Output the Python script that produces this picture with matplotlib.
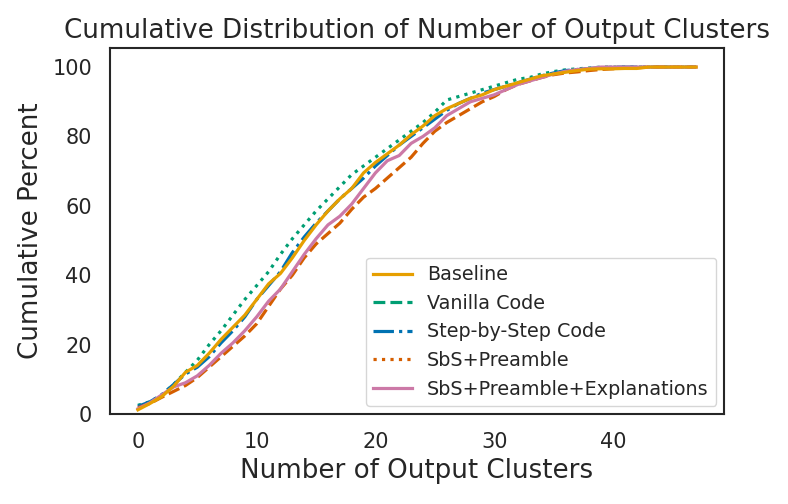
import matplotlib
matplotlib.use("Agg")
import matplotlib.pyplot as plt
from matplotlib.lines import Line2D
import numpy as np

clusters = np.arange(48)

baseline = [1.2, 3.0, 5.0, 8.0, 12.0, 14.0, 17.5, 21.5, 25.0, 28.5,
            33.0, 37.5, 40.5, 45.0, 50.0, 54.5, 58.5, 62.0, 65.0, 69.5,
            72.5, 75.0, 77.5, 80.5, 83.0, 86.0, 88.0, 89.5, 91.0, 92.0,
            93.5, 94.5, 95.5, 96.5, 97.5, 98.0, 98.5, 99.0, 99.4, 99.5,
            99.5, 99.6, 99.6, 100, 100, 100, 100, 100]
vanilla = [2.5, 3.5, 5.5, 8.5, 12.0, 15.5, 20.0, 24.0, 28.5, 33.0,
           37.0, 41.0, 46.0, 50.5, 54.5, 58.5, 62.0, 65.5, 69.0, 71.5,
           74.0, 76.5, 79.0, 81.5, 84.0, 87.0, 90.5, 91.5, 92.5, 93.5,
           94.5, 95.5, 96.5, 97.0, 98.0, 98.7, 99.2, 99.5, 99.7, 100,
           100, 100, 100, 100, 100, 100, 100, 100]
sbs_code = [2.2, 3.5, 5.5, 8.5, 11.5, 13.5, 16.5, 20.5, 24.0, 28.0,
            33.0, 37.0, 41.0, 46.5, 51.0, 55.0, 58.5, 62.0, 65.0, 68.0,
            71.5, 74.5, 77.5, 80.0, 82.5, 85.0, 87.5, 89.5, 91.0, 92.5,
            93.5, 94.5, 95.5, 96.5, 97.5, 98.3, 99.0, 99.3, 99.6, 99.8,
            100, 100, 100, 100, 100, 100, 100, 100]
sbs_preamble = [1.8, 3.0, 4.8, 6.5, 8.2, 10.5, 13.5, 16.5, 19.5, 22.5,
                26.0, 31.0, 36.0, 40.0, 45.0, 49.0, 52.0, 55.0, 59.0, 62.5,
                65.0, 68.0, 71.0, 74.0, 78.0, 81.5, 84.0, 86.0, 88.0, 90.0,
                91.5, 93.5, 95.0, 96.0, 97.0, 97.8, 98.3, 98.6, 99.0, 99.3,
                99.5, 99.7, 99.8, 100, 100, 100, 100, 100]
sbs_expl = [1.5, 3.2, 5.5, 7.8, 9.0, 11.0, 14.0, 17.5, 20.5, 24.0,
            28.0, 32.5, 36.0, 41.0, 46.0, 50.5, 54.5, 57.0, 60.5, 65.0,
            69.5, 73.0, 74.5, 78.0, 80.0, 82.5, 86.0, 88.0, 90.0, 91.0,
            92.0, 93.5, 95.0, 96.0, 97.0, 98.0, 98.8, 99.3, 99.6, 100,
            100, 100, 100, 100, 100, 100, 100, 100]

labels = ["Baseline", "Vanilla Code", "Step-by-Step Code", "SbS+Preamble",
          "SbS+Preamble+Explanations"]
colors = ["#E69F00", "#009E73", "#0072B2", "#D55E00", "#CC79A7"]

plt.rcParams["font.family"] = "DejaVu Sans"
plt.rcParams["text.color"] = ".15"
plt.rcParams["axes.labelcolor"] = ".15"
plt.rcParams["xtick.color"] = ".15"
plt.rcParams["ytick.color"] = ".15"

fig = plt.figure(figsize=(7.88, 5.04), dpi=100)
ax = fig.add_axes([0.1396, 0.1786, 0.7792, 0.7262])

# plotted styles (legend below uses its own handles, as in the original)
ax.plot(clusters, vanilla, color=colors[1], ls=(0, (1, 1.65)), lw=2.3)
ax.plot(clusters, sbs_code, color=colors[2], ls="-.", lw=2.3)
ax.plot(clusters, sbs_preamble, color=colors[3], ls=(0, (3.7, 1.6)), lw=2.3)
ax.plot(clusters, sbs_expl, color=colors[4], ls="-", lw=2.3)
ax.plot(clusters, baseline, color=colors[0], ls="-", lw=2.3, zorder=3)

ax.set_xlim(-2.35, 49.35)
ax.set_ylim(0, 105.5)
ax.set_xticks([0, 10, 20, 30, 40])
ax.set_yticks([0, 20, 40, 60, 80, 100])
ax.tick_params(length=0, labelsize=15, pad=13)
for s in ax.spines.values():
    s.set_color(".15")
    s.set_linewidth(1.5)

ax.set_title("Cumulative Distribution of Number of Output Clusters", fontsize=18.8, pad=7)
ax.set_xlabel("Number of Output Clusters", fontsize=18.8, labelpad=4)
ax.set_ylabel("Cumulative Percent", fontsize=18.8, labelpad=6)

handles = [
    Line2D([], [], color=colors[0], ls="-", lw=2.3),
    Line2D([], [], color=colors[1], ls=(0, (3.7, 1.6)), lw=2.3),
    Line2D([], [], color=colors[2], ls="-.", lw=2.3),
    Line2D([], [], color=colors[3], ls=(0, (1, 1.65)), lw=2.3),
    Line2D([], [], color=colors[4], ls="-", lw=2.3),
]
leg = ax.legend(handles, labels, loc="lower right", fontsize=13.8,
                frameon=True, fancybox=True, borderaxespad=0.4)
leg.get_frame().set_edgecolor(".8")

fig.savefig("out.png", dpi=100)
